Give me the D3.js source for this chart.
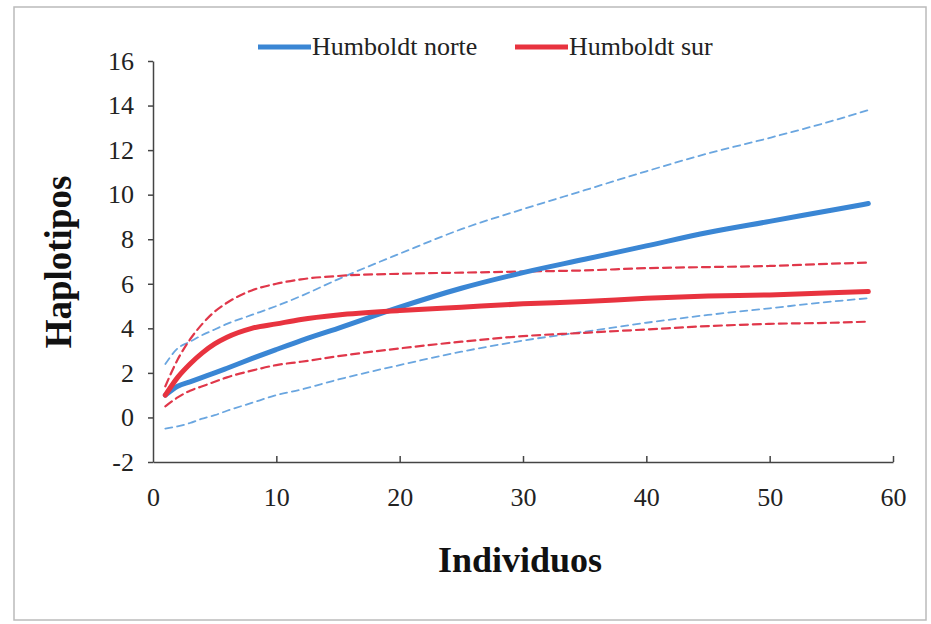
<!DOCTYPE html>
<html>
<head>
<meta charset="utf-8">
<script src="https://cdn.jsdelivr.net/npm/d3@7"></script>
<style>
  body { margin: 0; background: #fff; }
  svg { display: block; font-family: "Liberation Serif", "Times New Roman", serif; }
  svg text { font-family: "Liberation Serif", "Times New Roman", serif; }
</style>
</head>
<body>
<svg width="931" height="624"></svg>
<script>
// sample sizes (individuals)
const individuos = [1, 2, 3, 4, 5, 6, 8, 10, 12, 15, 20, 25, 30, 35, 40, 45, 50, 55, 58];

// Humboldt norte: mean + upper/lower bounds
const norte     = [1.0, 1.4, 1.6, 1.8, 2.0, 2.21, 2.64, 3.05, 3.45, 4.0, 4.95, 5.8, 6.5, 7.1, 7.7, 8.3, 8.8, 9.3, 9.6];
const norteSup  = [2.4, 3.1, 3.4, 3.7, 3.95, 4.2, 4.6, 5.0, 5.45, 6.2, 7.35, 8.45, 9.35, 10.2, 11.05, 11.85, 12.55, 13.3, 13.8];
const norteInf  = [-0.5, -0.4, -0.25, -0.05, 0.1, 0.3, 0.65, 1.0, 1.25, 1.7, 2.35, 2.95, 3.45, 3.85, 4.25, 4.6, 4.9, 5.2, 5.35];

// Humboldt sur: mean + upper/lower bounds
const sur       = [1.0, 1.8, 2.4, 2.9, 3.3, 3.6, 4.0, 4.2, 4.4, 4.6, 4.8, 4.95, 5.1, 5.2, 5.35, 5.45, 5.5, 5.6, 5.65];
const surSup    = [1.4, 2.6, 3.5, 4.2, 4.75, 5.15, 5.7, 6.0, 6.2, 6.35, 6.45, 6.5, 6.55, 6.6, 6.7, 6.75, 6.8, 6.9, 6.95];
const surInf    = [0.5, 0.9, 1.2, 1.4, 1.6, 1.8, 2.1, 2.35, 2.5, 2.75, 3.1, 3.4, 3.65, 3.8, 3.95, 4.1, 4.2, 4.25, 4.3];

const xTicks = [0, 10, 20, 30, 40, 50, 60];
const yTicks = [-2, 0, 2, 4, 6, 8, 10, 12, 14, 16];

const svg = d3.select("svg");

// light frame around the chart
svg.append("rect")
  .attr("x", 14).attr("y", 7).attr("width", 912).attr("height", 613)
  .attr("fill", "none").attr("stroke", "#bbb").attr("stroke-width", 1.5);

const x = d3.scaleLinear().domain([0, 60]).range([153, 893]);
const y = d3.scaleLinear().domain([-2, 16]).range([462, 61]);

// y axis
const yAxis = svg.append("g")
  .attr("transform", "translate(153,0)")
  .call(d3.axisLeft(y).tickValues(yTicks).tickFormat(d => String(d))
    .tickSize(5).tickSizeOuter(0).tickPadding(14));
yAxis.select(".domain").attr("stroke", "#444").attr("stroke-width", 1.5);
yAxis.selectAll(".tick line").attr("stroke", "#444").attr("stroke-width", 1.5);
yAxis.selectAll("text")
  .style("font-family", "'Liberation Serif', serif")
  .style("font-size", "26px").attr("fill", "#222");

// x axis, ticks pointing up
const xAxis = svg.append("g")
  .attr("transform", "translate(0,462)")
  .call(d3.axisBottom(x).tickValues(xTicks).tickFormat(d => String(d))
    .tickSize(-6).tickSizeOuter(0).tickPadding(26));
xAxis.select(".domain").attr("stroke", "#444").attr("stroke-width", 1.5);
xAxis.selectAll(".tick line").attr("stroke", "#444").attr("stroke-width", 1.5);
xAxis.selectAll(".tick").filter(d => d === 0).select("line").remove();
xAxis.selectAll("text")
  .style("font-family", "'Liberation Serif', serif")
  .style("font-size", "26px").attr("fill", "#222");

// axis titles
svg.append("text")
  .attr("transform", "translate(71,262) rotate(-90)")
  .attr("text-anchor", "middle")
  .attr("font-size", 37).attr("font-weight", "bold").attr("fill", "#111")
  .text("Haplotipos");
svg.append("text")
  .attr("x", 520).attr("y", 572)
  .attr("text-anchor", "middle")
  .attr("font-size", 36).attr("font-weight", "bold").attr("fill", "#111")
  .text("Individuos");

const line = d3.line()
  .x(d => x(d[0]))
  .y(d => y(d[1]))
  .curve(d3.curveMonotoneX);

const series = [
  { vals: norteSup, color: "#6aa6e0", width: 1.8, dash: "7,5" },
  { vals: norteInf, color: "#6aa6e0", width: 1.8, dash: "7,5" },
  { vals: surSup,   color: "#e0374a", width: 2.2, dash: "8,5" },
  { vals: surInf,   color: "#e0374a", width: 2.2, dash: "8,5" },
  { vals: norte,    color: "#3a86d4", width: 5,   dash: null },
  { vals: sur,      color: "#e8333f", width: 5,   dash: null }
];

svg.selectAll("path.serie")
  .data(series)
  .enter()
  .append("path")
  .attr("class", "serie")
  .attr("fill", "none")
  .attr("stroke", d => d.color)
  .attr("stroke-width", d => d.width)
  .attr("stroke-dasharray", d => d.dash)
  .attr("stroke-linecap", "round")
  .attr("d", d => line(individuos.map((v, i) => [v, d.vals[i]])));

// legend
const legend = [
  { name: "Humboldt norte", color: "#3a86d4", x0: 258 },
  { name: "Humboldt sur", color: "#e8333f", x0: 515 }
];
const lg = svg.selectAll("g.legend")
  .data(legend)
  .enter()
  .append("g")
  .attr("class", "legend")
  .attr("transform", d => "translate(" + d.x0 + ",47)");
lg.append("line")
  .attr("x1", 0).attr("x2", 53)
  .attr("stroke", d => d.color).attr("stroke-width", 5);
lg.append("text")
  .attr("x", 54).attr("y", 8)
  .attr("font-size", 26).attr("fill", "#222")
  .text(d => d.name);
</script>
</body>
</html>
